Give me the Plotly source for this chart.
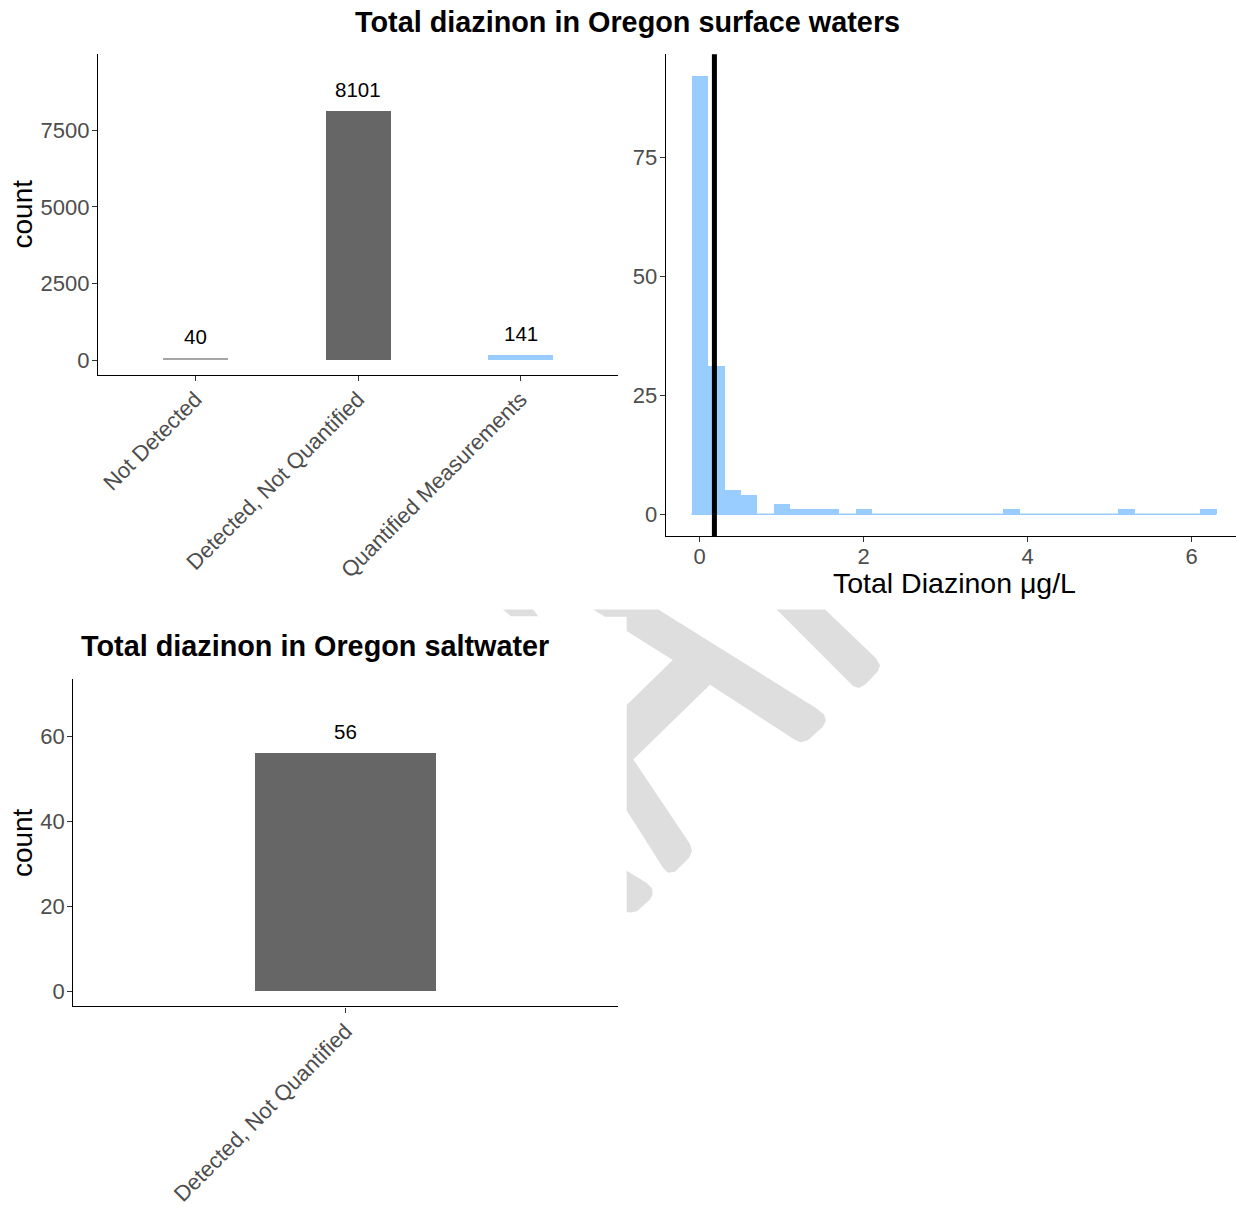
import plotly.graph_objects as go

W, H = 1236, 1207

# ---------------- data ----------------
surface_categories = ["Not Detected", "Detected, Not Quantified", "Quantified Measurements"]
surface_counts = [40, 8101, 141]
surface_colors = ["#A6A6A6", "#666666", "#99CCFF"]

hist_bin_centers = [0.0, 0.2, 0.4, 0.6, 0.8, 1.0, 1.2, 1.4, 1.6, 1.8,
                    2.0, 2.2, 2.4, 2.6, 2.8, 3.0, 3.2, 3.4, 3.6, 3.8,
                    4.0, 4.2, 4.4, 4.6, 4.8, 5.0, 5.2, 5.4, 5.6, 5.8,
                    6.0, 6.2]
hist_counts = [92, 31, 5, 4, 0, 2, 1, 1, 1, 0,
               1, 0, 0, 0, 0, 0, 0, 0, 0, 1,
               0, 0, 0, 0, 0, 0, 1, 0, 0, 0,
               0, 1]
hist_bin_width = 0.2
benchmark_value = 0.18

salt_categories = ["Detected, Not Quantified"]
salt_counts = [56]
salt_colors = ["#666666"]

surface_yticks = [0, 2500, 5000, 7500]
hist_xticks = [0, 2, 4, 6]
hist_yticks = [0, 25, 50, 75]
salt_yticks = [0, 20, 40, 60]

FONT = "Liberation Sans, Arial, sans-serif"
TICK_COLOR = "#4D4D4D"


def px(x):
    return x / W


def py(y):
    return 1 - y / H


fig = go.Figure()

# top-left bars
fig.add_trace(go.Bar(
    x=surface_categories, y=surface_counts, width=0.4,
    marker=dict(color=surface_colors, line=dict(width=0)),
    xaxis="x", yaxis="y", showlegend=False, hoverinfo="x+y"))

# histogram
fig.add_trace(go.Bar(
    x=hist_bin_centers, y=hist_counts, width=hist_bin_width,
    marker=dict(color="#99CCFF", line=dict(width=0)),
    xaxis="x2", yaxis="y2", showlegend=False))

# bottom bars
fig.add_trace(go.Bar(
    x=salt_categories, y=salt_counts, width=0.4,
    marker=dict(color=salt_colors, line=dict(width=0)),
    xaxis="x3", yaxis="y3", showlegend=False))

axis_common = dict(
    showline=True, linecolor="#000000", linewidth=1.2,
    ticks="outside", ticklen=5, tickwidth=1, tickcolor="#333333",
    showgrid=False, zeroline=False,
    tickfont=dict(family=FONT, size=22, color=TICK_COLOR),
    fixedrange=True,
)

fig.update_layout(
    width=W, height=H,
    margin=dict(l=0, r=0, t=0, b=0),
    paper_bgcolor="white", plot_bgcolor="rgba(0,0,0,0)",
    bargap=0,
    xaxis=dict(domain=[px(98), px(618)], range=[-0.6, 2.6], type="category",
               tickangle=-45, anchor="y", ticklabelstandoff=-3, **axis_common),
    yaxis=dict(domain=[py(379), py(55)], range=[-475, 9975], anchor="x",
               tickvals=surface_yticks, ticklabelstandoff=-2, **axis_common),
    xaxis2=dict(domain=[px(665.7), 1.0], range=[-0.414, 6.54], anchor="y2",
                tickvals=hist_xticks, ticklabelstandoff=-5, **axis_common),
    yaxis2=dict(domain=[py(542.5), py(55)], range=[-4.6, 96.6], anchor="x2",
                tickvals=hist_yticks, ticklabelstandoff=-2, **axis_common),
    xaxis3=dict(domain=[px(73.3), px(618)], range=[-0.6, 0.6], type="category",
                tickangle=-45, anchor="y3", ticklabelstandoff=-3, **axis_common),
    yaxis3=dict(domain=[py(1018.3), py(687.3)], range=[-3.5, 73.5], anchor="x3",
                tickvals=salt_yticks, ticklabelstandoff=-2, **axis_common),
)

annotations = []
# bar value labels
for c, v in zip(surface_categories, surface_counts):
    annotations.append(dict(x=c, y=v, xref="x", yref="y", text=str(v),
                            showarrow=False, yanchor="middle", yshift=22,
                            font=dict(family=FONT, size=20.5, color="black")))
for c, v in zip(salt_categories, salt_counts):
    annotations.append(dict(x=c, y=v, xref="x3", yref="y3", text=str(v),
                            showarrow=False, yanchor="middle", yshift=22,
                            font=dict(family=FONT, size=20.5, color="black")))

# titles
annotations.append(dict(x=px(627), y=py(22), xref="paper", yref="paper",
                        text="<b>Total diazinon in Oregon surface waters</b>",
                        showarrow=False, xanchor="center", yanchor="middle",
                        font=dict(family=FONT, size=28.8, color="black")))
annotations.append(dict(x=px(315), y=py(654), xref="paper", yref="paper",
                        text="<b>Total diazinon in Oregon saltwater</b>",
                        showarrow=False, xanchor="center", yanchor="middle",
                        font=dict(family=FONT, size=28.8, color="black")))
# axis titles
for yy in (217, 853):
    annotations.append(dict(x=px(22), y=py(yy), xref="paper", yref="paper",
                            text="count", textangle=-90, showarrow=False,
                            xanchor="center", yanchor="middle",
                            font=dict(family=FONT, size=28, color="black")))
annotations.append(dict(x=px(954), y=py(590), xref="paper", yref="paper",
                        text="Total Diazinon \u03bcg/L", showarrow=False,
                        xanchor="center", yanchor="middle",
                        font=dict(family=FONT, size=28.5, color="black")))
fig.update_layout(annotations=annotations)

shapes = []
# zero-count baseline of histogram
shapes.append(dict(type="line", xref="x2", yref="y2",
                   x0=hist_bin_centers[0] - hist_bin_width / 2,
                   x1=hist_bin_centers[-1] + hist_bin_width / 2,
                   y0=0, y1=0, line=dict(color="#99CCFF", width=1.5), layer="below"))
# benchmark line
shapes.append(dict(type="line", xref="x2", yref="y2 domain",
                   x0=benchmark_value, x1=benchmark_value, y0=0, y1=1,
                   line=dict(color="black", width=5)))


# watermark fragments (pixel polygons -> paper coords)
def poly(points):
    s = "M " + " L ".join(f"{px(a):.5f},{py(b):.5f}" for a, b in points) + " Z"
    return dict(type="path", xref="paper", yref="paper", path=s,
                fillcolor="#DEDEDE", line=dict(width=0), layer="below")


wm1 = [(593.3, 616.7), (658.3, 616.7), (816.7, 716.7), (824, 723), (826, 729),
       (823, 735), (808, 749), (800, 751), (794, 748), (710, 692.7),
       (633.3, 768.3), (690, 854), (692, 861), (689, 868), (675, 882),
       (668, 883), (663, 878), (626.7, 820), (626.7, 713.3), (672.7, 667.7),
       (626.7, 638.3), (626.7, 624), (605, 624)]
wm2 = [(776.7, 616.7), (825, 616.7), (876, 666), (880, 673), (878, 679),
       (866, 692), (859, 696), (853.3, 694.3)]
wm3 = [(626.7, 881), (646.7, 893.3), (652, 899), (652.7, 905), (650, 910),
       (637, 922), (630.7, 923.3), (626.7, 922.7)]
wm4 = [(503, 616.7), (533, 616.7), (538.3, 623.5), (511, 623.5)]
for p in (wm1, wm2, wm3, wm4):
    shapes.append(poly(p))

fig.update_layout(shapes=shapes)

post = (
    "document.documentElement.style.margin='0px';"
    "document.body.style.margin='0px';"
)

fig.write_html("out.html", post_script=post, config={"displayModeBar": False})
